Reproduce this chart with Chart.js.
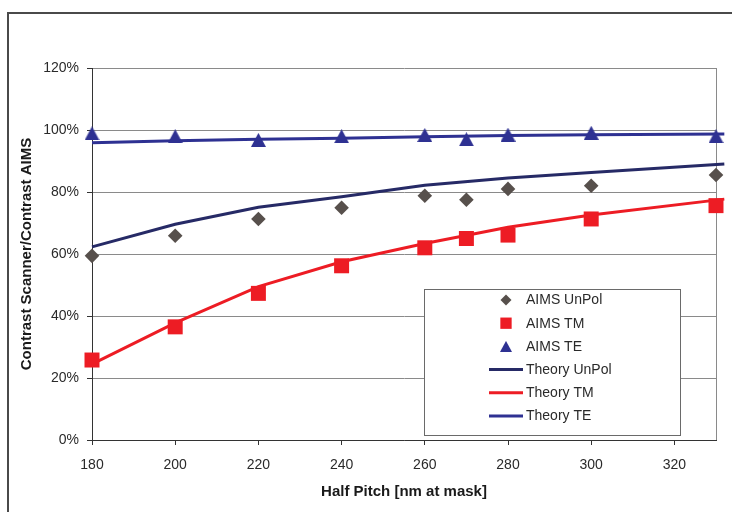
<!DOCTYPE html>
<html><head><meta charset="utf-8">
<script src="https://cdn.jsdelivr.net/npm/chart.js@4/dist/chart.umd.min.js"></script>
<style>
html,body{margin:0;padding:0;background:#fff;}
#wrap{position:relative;width:732px;height:512px;overflow:hidden;background:#fff;}
#frame{position:absolute;left:7px;top:12px;width:1000px;height:1000px;border:2px solid #4a4a4a;box-sizing:border-box;}
canvas{position:absolute;left:0;top:0;}
</style></head><body>
<div id="wrap"><div id="frame"></div><canvas id="c" width="732" height="512"></canvas></div>
<script>
// ---- data ----
const aimsPitch   = [180, 200, 220, 240, 260, 270, 280, 300, 330];
const aimsUnPol   = [59.4, 65.9, 71.3, 74.9, 78.8, 77.5, 81.0, 82.0, 85.5];
const aimsTM      = [25.8, 36.5, 47.3, 56.2, 62.0, 65.0, 66.1, 71.3, 75.6];
const aimsTE      = [98.9, 98.0, 96.8, 98.0, 98.4, 97.0, 98.5, 99.1, 98.0];
const theoryPitch = [180, 200, 220, 240, 260, 280, 300, 332];
const theoryUnPol = [62.3, 69.6, 75.1, 78.5, 82.2, 84.5, 86.3, 89.0];
const theoryTM    = [24.5, 37.8, 49.5, 57.5, 63.4, 68.6, 72.6, 77.7];
const theoryTE    = [95.9, 96.5, 97.0, 97.3, 97.8, 98.2, 98.5, 98.7];
const xTickValues = [180, 200, 220, 240, 260, 280, 300, 320];
const yTickValues = [0, 20, 40, 60, 80, 100, 120];
const seriesLabels = ['AIMS UnPol', 'AIMS TM', 'AIMS TE', 'Theory UnPol', 'Theory TM', 'Theory TE'];

const FONT = "'Liberation Sans', Arial, Helvetica, sans-serif";
const C_DIAMOND = '#57504c', C_RED = '#ed1c24', C_BLUE = '#2e3192', C_NAVY = '#262a66';

function pts(xs, ys){ return xs.map((x,i)=>({x:x, y:ys[i]})); }
function makeTri(w, h, color){
  const c = document.createElement('canvas'); c.width = w; c.height = h;
  const g = c.getContext('2d'); g.fillStyle = color;
  g.beginPath(); g.moveTo(w/2, 0); g.lineTo(w, h); g.lineTo(0, h); g.closePath(); g.fill();
  return c;
}
const triBig = makeTri(15, 14, C_BLUE);
const triSmall = makeTri(12, 11, C_BLUE);

const datasets = [
  {label: seriesLabels[0], data: pts(aimsPitch, aimsUnPol), showLine:false, pointStyle:'rectRot', pointRadius:7.3, backgroundColor:C_DIAMOND, borderColor:C_DIAMOND, borderWidth:0, clip:false, legendR:5.5},
  {label: seriesLabels[1], data: pts(aimsPitch, aimsTM), showLine:false, pointStyle:'rect', pointRadius:10.6, backgroundColor:C_RED, borderColor:C_RED, borderWidth:0, clip:false, legendR:8},
  {label: seriesLabels[2], data: pts(aimsPitch, aimsTE), showLine:false, pointStyle:triBig, pointRadius:8, backgroundColor:C_BLUE, borderColor:C_BLUE, borderWidth:0, clip:false, legendImg:triSmall},
  {label: seriesLabels[3], data: pts(theoryPitch, theoryUnPol), showLine:true, pointRadius:0, borderColor:C_NAVY, backgroundColor:C_NAVY, borderWidth:3, clip:false, isLine:true},
  {label: seriesLabels[4], data: pts(theoryPitch, theoryTM), showLine:true, pointRadius:0, borderColor:C_RED, backgroundColor:C_RED, borderWidth:3, clip:false, isLine:true},
  {label: seriesLabels[5], data: pts(theoryPitch, theoryTE), showLine:true, pointRadius:0, borderColor:C_BLUE, backgroundColor:C_BLUE, borderWidth:3, clip:false, isLine:true}
];

const frameRight = {
  id:'frameRight',
  beforeDatasetsDraw(chart){
    const {ctx, chartArea:a} = chart;
    ctx.save(); ctx.strokeStyle = '#8a8a8a'; ctx.lineWidth = 1;
    ctx.beginPath(); ctx.moveTo(Math.round(a.right)+0.5, a.top); ctx.lineTo(Math.round(a.right)+0.5, a.bottom); ctx.stroke();
    ctx.restore();
  }
};

const boxLegend = {
  id:'boxLegend',
  afterDraw(chart){
    const ctx = chart.ctx;
    const bx = 424.5, by = 289.5, bw = 256, bh = 146;
    ctx.save();
    ctx.fillStyle = '#fff'; ctx.fillRect(bx, by, bw, bh);
    ctx.strokeStyle = '#6a6a6a'; ctx.lineWidth = 1; ctx.strokeRect(bx, by, bw, bh);
    ctx.font = '14px ' + FONT; ctx.textBaseline = 'middle'; ctx.textAlign = 'left'; 
    chart.data.datasets.forEach((ds, i) => {
      const y = 300 + i * 23.2, mx = 506;
      if (ds.isLine) {
        ctx.strokeStyle = ds.borderColor; ctx.lineWidth = 3;
        ctx.beginPath(); ctx.moveTo(489, y); ctx.lineTo(523, y); ctx.stroke();
      } else if (ds.legendImg) {
        ctx.drawImage(ds.legendImg, mx - ds.legendImg.width/2, y - ds.legendImg.height/2);
      } else {
        ctx.fillStyle = ds.backgroundColor;
        Chart.helpers.drawPoint(ctx, {pointStyle: ds.pointStyle, radius: ds.legendR, rotation: 0, borderWidth: 0}, mx, y);
      }
      ctx.fillStyle = '#2a2a2a';
      ctx.fillText(ds.label, 526, y + 0.5);
    });
    ctx.restore();
  }
};

new Chart(document.getElementById('c'), {
  type: 'scatter',
  data: {datasets},
  plugins: [frameRight, boxLegend],
  options: {
    responsive: false, animation: false, clip: false,
    layout: {padding: {top: 68, right: 16, left: 0, bottom: 0}},
    plugins: {legend: {display: false}, tooltip: {enabled: false}},
    scales: {
      x: {
        type: 'linear', min: 180, max: 330,
        afterBuildTicks: s => { s.ticks = xTickValues.map(v => ({value: v})); },
        afterFit: s => { s.height = 72; },
        grid: {drawOnChartArea: false, drawTicks: true, tickLength: 5, tickColor: '#333', lineWidth: 1},
        border: {color: '#333', width: 1},
        ticks: {color: '#2a2a2a', font: {family: FONT, size: 14}, padding: 12, maxRotation: 0, autoSkip: false},
        title: {display: true, text: 'Half Pitch [nm at mask]', color: '#1a1a1a', font: {family: FONT, size: 15, weight: 'bold'}, padding: {top: 0, bottom: 11}}
      },
      y: {
        type: 'linear', min: 0, max: 120,
        afterBuildTicks: s => { s.ticks = yTickValues.map(v => ({value: v})); },
        afterFit: s => { s.width = 92; },
        grid: {color: '#8a8a8a', lineWidth: 1, drawTicks: true, tickLength: 5, tickColor: '#333'},
        border: {color: '#333', width: 1},
        ticks: {color: '#2a2a2a', font: {family: FONT, size: 14}, padding: 8, callback: v => v + '%'},
        title: {display: true, text: 'Contrast Scanner/Contrast AIMS', color: '#1a1a1a', font: {family: FONT, size: 15, weight: 'bold'}, padding: {top: 18, bottom: 0}}
      }
    }
  }
});
</script>
</body></html>
